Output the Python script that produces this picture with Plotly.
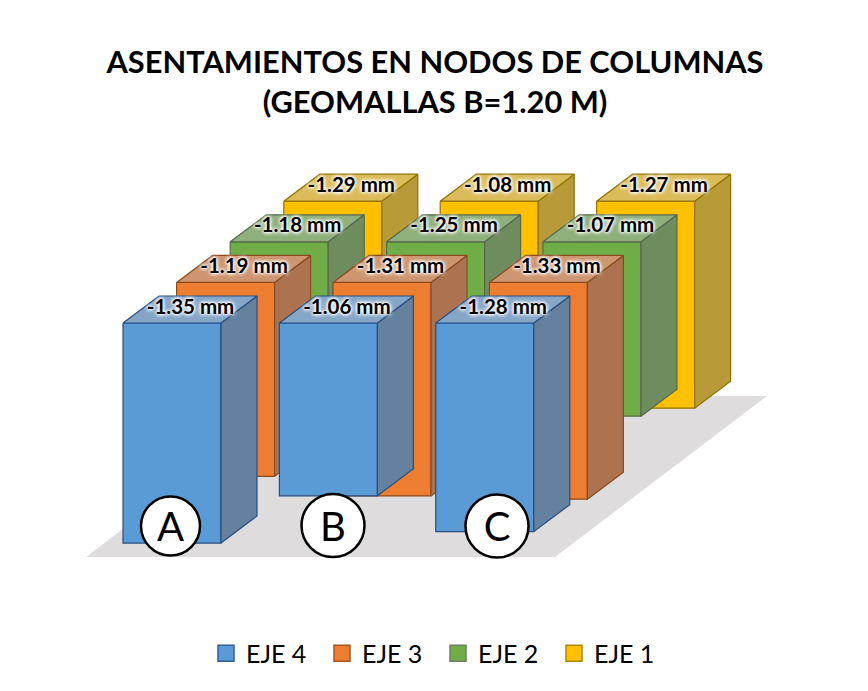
import plotly.graph_objects as go

categories = ["A", "B", "C"]
series_names = ["EJE 4", "EJE 3", "EJE 2", "EJE 1"]
eje4 = [-1.35, -1.06, -1.28]
eje3 = [-1.19, -1.31, -1.33]
eje2 = [-1.18, -1.25, -1.07]
eje1 = [-1.29, -1.08, -1.27]
series_values = [eje4, eje3, eje2, eje1]

front = ["#5B9BD5", "#ED7D31", "#70AD47", "#FFC000"]
side = ["#64829F", "#AD7350", "#6F8C5E", "#B89A38"]
top = ["#86A6C8", "#CD9570", "#8FAF7B", "#DCBC5A"]
edge = ["#264E80", "#8A4A1C", "#56694A", "#8F7200"]
legend_line = ["#2F5F93", "#A5561F", "#6F7F66", "#B08600"]

FONT = "Lato, Carlito, Calibri, sans-serif"
# oblique projection of the 3-D chart onto the page plane
X0, Y0 = 123.0, 323.0
CAT_DX = 156.4
ROW_DX, ROW_DY = 53.6, -40.6
PX_PER_MM = 163.0
BAR_W, DEPTH_X, DEPTH_Y = 98.0, 36.0, -27.0


def ring(points):
    xs = [p[0] for p in points] + [points[0][0], None]
    ys = [p[1] for p in points] + [points[0][1], None]
    return xs, ys


def faces(cat, row, value):
    x = X0 + CAT_DX * cat + ROW_DX * row
    y = Y0 + ROW_DY * row
    b = y + PX_PER_MM * abs(value)
    w, dx, dy = BAR_W, DEPTH_X, DEPTH_Y
    return (
        ring([(x, y), (x + w, y), (x + w, b), (x, b)]),
        ring([(x + w, y), (x + w + dx, y + dy), (x + w + dx, b + dy), (x + w, b)]),
        ring([(x, y), (x + dx, y + dy), (x + w + dx, y + dy), (x + w, y)]),
    )


fig = go.Figure()
# floor
fig.add_trace(go.Scatter(x=[86, 555, 767, 298, 86], y=[557, 557, 396, 396, 557], mode="lines",
                         fill="toself", fillcolor="#DEDCDD", line=dict(width=0),
                         showlegend=False, hoverinfo="skip"))

for row in [3, 2, 1, 0]:
    for k, colors in enumerate([front, side, top]):
        xs, ys = [], []
        for cat in range(len(categories)):
            f = faces(cat, row, series_values[row][cat])[k]
            xs += f[0]
            ys += f[1]
        fig.add_trace(go.Scatter(x=xs, y=ys, mode="lines", fill="toself", fillcolor=colors[row],
                                 line=dict(color=edge[row], width=1.2), showlegend=False,
                                 hoverinfo="skip"))
    fig.add_trace(go.Scatter(x=[None], y=[None], mode="markers", name=series_names[row],
                             marker=dict(symbol="square", size=16, color=front[row],
                                         line=dict(color=legend_line[row], width=1.5))))

# value labels on the top faces
for row in [3, 2, 1, 0]:
    lx, ly, lt = [], [], []
    for cat, v in enumerate(series_values[row]):
        lx.append(X0 + CAT_DX * cat + ROW_DX * row + (BAR_W + DEPTH_X) / 2 + 0.5)
        ly.append(Y0 + ROW_DY * row + DEPTH_Y / 2 - 1)
        lt.append(f"{v:.2f} mm")
    fig.add_trace(go.Scatter(x=lx, y=ly, text=lt, mode="text", showlegend=False, hoverinfo="skip",
                             textposition="middle center",
                             textfont=dict(family=FONT, size=20.5, color="#000000", weight="bold",
                                           shadow="0 0 3px #fff, 0 0 3px #fff, 0 0 4px #fff, 0 0 5px #fff")))

# category badges
badge_x = [170.5, 333, 497]
badge_y = [526, 525.5, 526]
fig.add_trace(go.Scatter(x=badge_x, y=badge_y, mode="markers",
                         marker=dict(size=[59, 63, 63], color="white", opacity=1,
                                     line=dict(color="black", width=2.5)),
                         showlegend=False, hoverinfo="skip"))
fig.add_trace(go.Scatter(x=badge_x, y=[v + 5 for v in badge_y], mode="text", text=categories,
                         textposition="middle center", showlegend=False, hoverinfo="skip",
                         textfont=dict(family=FONT, size=40, color="black")))

fig.update_layout(
    width=860, height=683, margin=dict(l=0, r=0, t=0, b=0),
    paper_bgcolor="white", plot_bgcolor="white",
    title=dict(text="ASENTAMIENTOS EN NODOS DE COLUMNAS<br>(GEOMALLAS B=1.20 M)",
               x=0.4965, xanchor="center", y=0.905, yanchor="top",
               font=dict(family=FONT, size=30.8, color="black", weight="bold")),
    xaxis=dict(range=[8, 868], visible=False, fixedrange=True),
    yaxis=dict(range=[691, 8], visible=False, fixedrange=True),
    legend=dict(orientation="h", x=0.5, xanchor="center", y=0.055, yanchor="middle",
                traceorder="reversed", font=dict(family=FONT, size=25, color="black"),
                itemwidth=30, entrywidth=71, entrywidthmode="pixels", bgcolor="rgba(0,0,0,0)"),
)
fig.write_html("out.html")
